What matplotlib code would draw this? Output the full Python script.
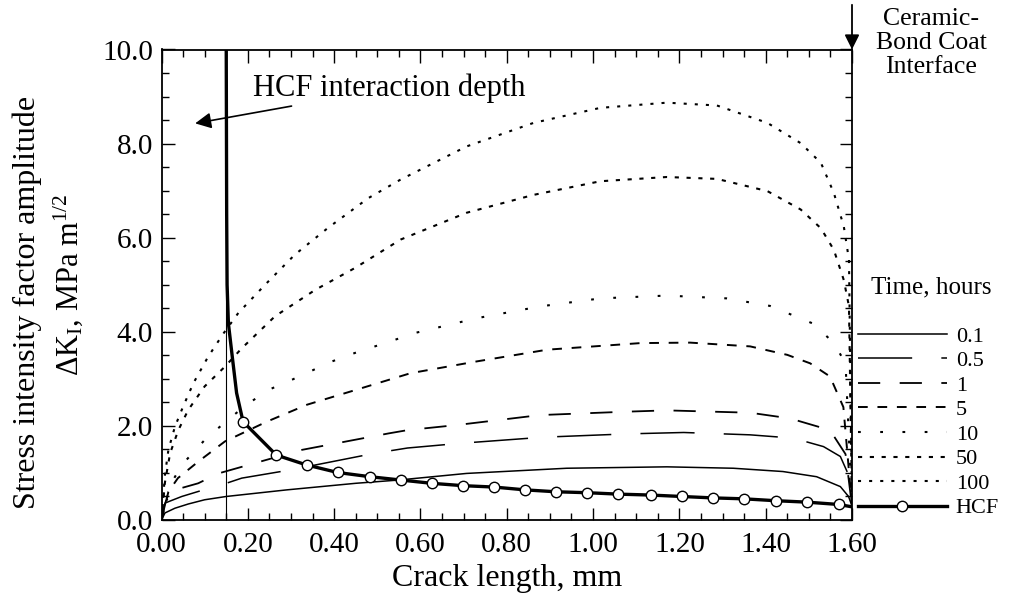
import matplotlib
matplotlib.use("Agg")
import matplotlib.pyplot as plt
from matplotlib.ticker import MultipleLocator, FormatStrFormatter

plt.rcParams['font.family'] = ['Liberation Serif', 'DejaVu Serif']
plt.rcParams['mathtext.fontset'] = 'custom'
plt.rcParams['mathtext.rm'] = 'Liberation Serif'
plt.rcParams['mathtext.it'] = 'Liberation Serif:italic'
plt.rcParams['lines.scale_dashes'] = False

# ---------------- data ----------------
t01_x = [0, 0.008, 0.031, 0.062, 0.10, 0.15, 0.29, 0.45, 0.55, 0.707, 0.939, 1.171, 1.325, 1.44, 1.518, 1.573, 1.592, 1.6]
t01_y = [0, 0.15, 0.25, 0.34, 0.43, 0.50, 0.64, 0.78, 0.85, 0.99, 1.10, 1.13, 1.10, 1.03, 0.92, 0.71, 0.50, 0.30]

t05_x = [0, 0.008, 0.047, 0.108, 0.15, 0.186, 0.296, 0.495, 0.57, 0.692, 0.885, 1.078, 1.21, 1.364, 1.464, 1.534, 1.573, 1.59, 1.6]
t05_y = [0, 0.36, 0.50, 0.67, 0.78, 0.89, 1.06, 1.42, 1.53, 1.63, 1.76, 1.83, 1.86, 1.81, 1.74, 1.56, 1.35, 1.00, 0.30]

t1_x = [0, 0.01, 0.031, 0.085, 0.132, 0.186, 0.325, 0.526, 0.57, 0.686, 0.877, 1.07, 1.171, 1.364, 1.456, 1.549, 1.585, 1.6]
t1_y = [0, 0.40, 0.64, 0.78, 0.99, 1.13, 1.49, 1.84, 1.91, 2.02, 2.23, 2.30, 2.33, 2.28, 2.16, 1.91, 1.40, 0.30]

t5_x = [0, 0.016, 0.038, 0.085, 0.147, 0.244, 0.337, 0.452, 0.577, 0.73, 0.894, 1.11, 1.225, 1.364, 1.45, 1.503, 1.549, 1.58, 1.6]
t5_y = [0, 0.60, 0.89, 1.24, 1.67, 2.09, 2.45, 2.77, 3.12, 3.37, 3.62, 3.76, 3.77, 3.69, 3.51, 3.33, 3.05, 2.40, 0.30]

t10_x = [0, 0.02, 0.05, 0.10, 0.15, 0.197, 0.249, 0.302, 0.395, 0.448, 0.541, 0.585, 0.731, 0.878, 1.017, 1.171, 1.31, 1.41, 1.511, 1.558, 1.585, 1.6]
t10_y = [0, 0.75, 1.20, 1.70, 2.10, 2.45, 2.77, 2.98, 3.37, 3.55, 3.83, 3.97, 4.29, 4.54, 4.71, 4.77, 4.71, 4.55, 4.17, 3.76, 3.33, 0.30]

t50_x = [0, 0.008, 0.02, 0.039, 0.062, 0.10, 0.147, 0.186, 0.263, 0.356, 0.449, 0.554, 0.707, 0.862, 1.017, 1.171, 1.287, 1.404, 1.481, 1.528, 1.558, 1.581, 1.593, 1.6]
t50_y = [0, 0.80, 1.42, 1.91, 2.34, 2.84, 3.26, 3.65, 4.33, 4.89, 5.36, 5.96, 6.53, 6.91, 7.20, 7.29, 7.25, 6.99, 6.60, 6.20, 5.74, 5.10, 4.54, 0.30]

t100_x = [0, 0.008, 0.016, 0.031, 0.05, 0.074, 0.108, 0.144, 0.178, 0.24, 0.309, 0.386, 0.479, 0.553, 0.707, 0.862, 1.017, 1.171, 1.287, 1.404, 1.481, 1.528, 1.558, 1.581, 1.593, 1.6]
t100_y = [0, 0.96, 1.49, 1.98, 2.41, 2.91, 3.47, 3.97, 4.40, 5.00, 5.64, 6.21, 6.84, 7.23, 7.94, 8.44, 8.76, 8.87, 8.81, 8.44, 8.01, 7.59, 6.95, 6.24, 5.53, 0.30]

hcf_x = [0.150, 0.151, 0.152, 0.155, 0.164, 0.174,
         0.189, 0.266, 0.336, 0.408, 0.483, 0.554, 0.626, 0.698, 0.771, 0.843,
         0.914, 0.987, 1.058, 1.134, 1.205, 1.277, 1.350, 1.423, 1.495, 1.569, 1.600]
hcf_y = [10.0, 6.5, 5.0, 4.18, 3.47, 2.70,
         2.09, 1.38, 1.17, 1.01, 0.92, 0.85, 0.78, 0.73, 0.70, 0.64,
         0.60, 0.58, 0.55, 0.53, 0.50, 0.47, 0.45, 0.41, 0.38, 0.33, 0.28]
hcf_marker_idx = list(range(6, 26))

hcf_depth = 0.15
series_labels = ['0.1', '0.5', '1', '5', '10', '50', '100', 'HCF']

# ---------------- figure ----------------
fig = plt.figure(figsize=(10.16, 6.02), dpi=100)
ax = fig.add_axes([161.5 / 1016, 1 - 520 / 602, (852 - 161.5) / 1016, (520 - 49.5) / 602])

lw = 1.1
ax.plot(t01_x, t01_y, color='black', lw=lw, ls='-', label=series_labels[0])
ax.plot(t05_x, t05_y, color='black', lw=lw, ls=(0, (39, 21)), label=series_labels[1])
ax.plot(t1_x, t1_y, color='black', lw=lw + 0.2, ls=(0, (16, 14)), label=series_labels[2])
ax.plot(t5_x, t5_y, color='black', lw=lw + 0.3, ls=(0, (7, 7)), label=series_labels[3])
ax.plot(t10_x, t10_y, color='black', lw=lw + 0.4, ls=(0, (2, 14)), label=series_labels[4])
ax.plot(t50_x, t50_y, color='black', lw=lw + 0.4, ls=(0, (3, 5.5)), label=series_labels[5])
ax.plot(t100_x, t100_y, color='black', lw=lw + 0.4, ls=(0, (2.2, 5.8)), label=series_labels[6])
ax.plot(hcf_x, hcf_y, color='black', lw=2.4, marker='o', markevery=hcf_marker_idx,
        markersize=7.5, markerfacecolor='white', markeredgecolor='black', markeredgewidth=1.0,
        label=series_labels[7], zorder=5)

# thin vertical line at HCF interaction depth
ax.axvline(hcf_depth, color='black', lw=0.8)

ax.set_xlim(0, 1.6)
ax.set_ylim(0, 10)
ax.xaxis.set_major_locator(MultipleLocator(0.2))
ax.xaxis.set_minor_locator(MultipleLocator(0.05))
ax.yaxis.set_major_locator(MultipleLocator(2.0))
ax.yaxis.set_minor_locator(MultipleLocator(0.5))
ax.xaxis.set_major_formatter(FormatStrFormatter('%.2f'))
ax.yaxis.set_major_formatter(FormatStrFormatter('%.1f'))
ax.tick_params(which='both', direction='in', top=True, right=True, width=1.0)
ax.tick_params(which='major', length=9, labelsize=21)
ax.tick_params(which='minor', length=5)
ax.tick_params(axis='x', pad=9)
ax.tick_params(axis='y', pad=6)
for s in ax.spines.values():
    s.set_linewidth(1.3)

ax.set_xlabel('Crack length, mm', fontsize=23, labelpad=4)

# y label (two lines)
fig.text(27 / 1016, 1 - 302 / 602, 'Stress intensity factor amplitude', rotation=90,
         ha='center', va='center', fontsize=23)
fig.text(68 / 1016, 1 - 285 / 602, r'$\Delta$K$_{\mathrm{I}}$, MPa m$^{1/2}$', rotation=90,
         ha='center', va='center', fontsize=22)

# HCF interaction depth annotation
ax.annotate('HCF interaction depth', xy=(0.078, 8.43), xytext=(0.212, 9.17),
            fontsize=22, ha='left', va='center',
            arrowprops=dict(arrowstyle='-|>', color='black', lw=1.2,
                            mutation_scale=24, shrinkA=0, shrinkB=0))

# Interface annotation
ax.annotate('', xy=(1.6, 10.0), xytext=(1.6, 10.95), annotation_clip=False,
            arrowprops=dict(arrowstyle='-|>', color='black', lw=1.3,
                            mutation_scale=22, shrinkA=0, shrinkB=0))
fig.text(931 / 1016, 1 - 43 / 602, 'Ceramic-\nBond Coat\nInterface', ha='center', va='center',
         fontsize=18.5, linespacing=1.12)

# legend
fig.text(931 / 1016, 1 - 287 / 602, 'Time, hours', ha='center', va='center', fontsize=18)
ax.legend(loc='upper left', bbox_to_anchor=(858 / 1016, 1 - 326 / 602), bbox_transform=fig.transFigure,
          frameon=False, fontsize=16, handlelength=4.0, handletextpad=0.4,
          labelspacing=0.18, borderpad=0, borderaxespad=0)

fig.savefig('out.png', dpi=100)
